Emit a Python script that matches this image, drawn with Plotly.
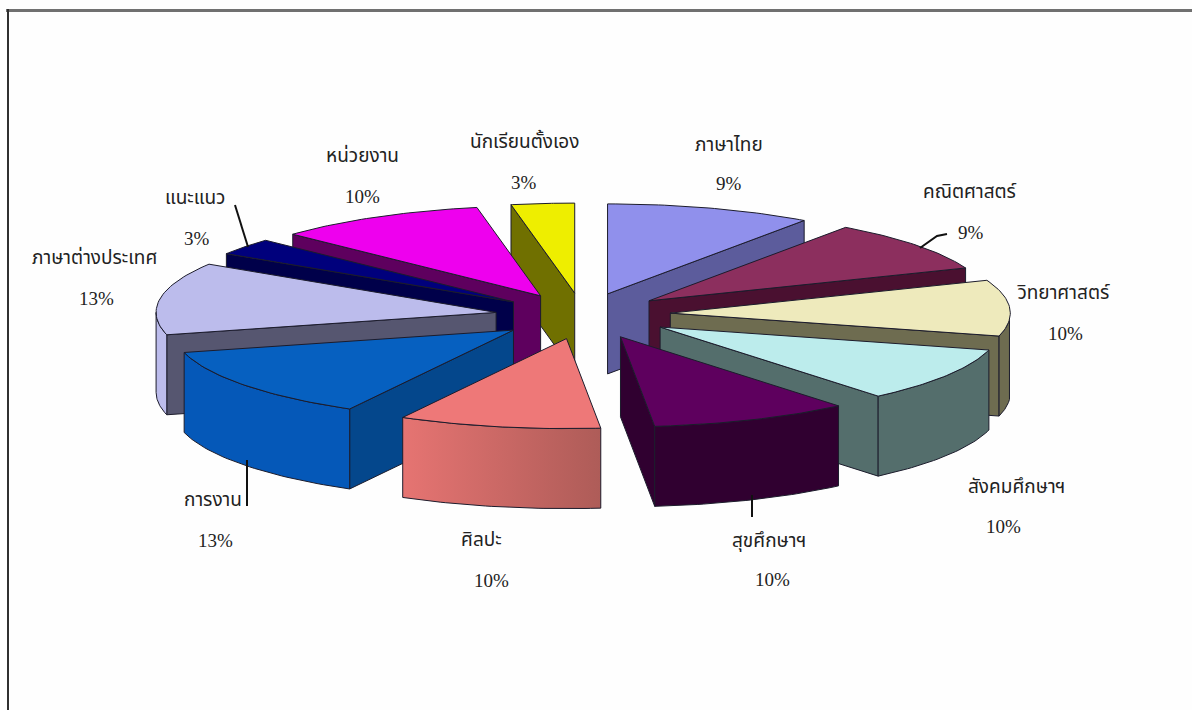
import math
import plotly.graph_objects as go

# --- chart data, clockwise from 12 o'clock ---
categories = ["ภาษาไทย", "คณิตศาสตร์", "วิทยาศาสตร์", "สังคมศึกษาฯ", "สุขศึกษาฯ", "ศิลปะ",
              "การงาน", "ภาษาต่างประเทศ", "แนะแนว", "หน่วยงาน", "นักเรียนตั้งเอง"]
percents = [9, 9, 10, 10, 10, 10, 13, 13, 3, 10, 3]
top_colors = ["#9090EC", "#8C2F5E", "#EEEABC", "#BCECEC", "#5E005E", "#EE7878",
              "#0660C0", "#BCBCEC", "#00007C", "#EE00EE", "#EEEE00"]
wall_colors = ["#5C5C9C", "#4A1030", "#6E6C50", "#546E6C", "#300030", "#C06464",
               "#04478C", "#565670", "#00004A", "#5E005E", "#707000"]
rim_colors = ["#5C5C9C", "#4A1030", "#6E6C50", "#546E6C", "#300030", "#C06464",
              "#0558B8", "#BCBCEC", "#00004A", "#5E005E", "#707000"]
name_xy = [(729, 145), (970, 192), (1063, 293), (1016, 487), (769, 541), (481, 540),
           (213, 500), (94, 258), (195, 198), (362, 156), (524, 142)]
pct_xy = [(729, 183), (971, 232), (1065, 333), (1003, 526), (772, 579), (491, 580),
          (215, 540), (96, 298), (197, 238), (362, 196), (524, 182)]

# --- projection of the exploded pie ---
CX, CY = 583, 316
RX, RY = 340, 90
EX, EY = 88, 23
DEPTH = 80
WARP = math.radians(4)  # slight perspective skew on the right-hand side
OUT = "#1c1c2c"
FONT_T = "Noto Sans Thai, Noto Serif Thai, Liberation Serif, DejaVu Serif, serif"


def warp(a):
    return a + WARP * math.sqrt(max(0.0, math.sin(a)))


def arc(tx, ty, a0, a1, n=36):
    pts = []
    for i in range(n + 1):
        a = warp(a0 + (a1 - a0) * i / n)
        pts.append((tx + RX * math.sin(a), ty - RY * math.cos(a)))
    return pts


def poly(fig, pts, color, gradient=None):
    xs = [p[0] for p in pts] + [pts[0][0]]
    ys = [p[1] for p in pts] + [pts[0][1]]
    kw = dict(fillgradient=gradient) if gradient else dict(fillcolor=color)
    fig.add_trace(go.Scatter(x=xs, y=ys, mode="lines", fill="toself",
                             line=dict(color=OUT, width=1), hoverinfo="skip",
                             showlegend=False, **kw))


fig = go.Figure()

total = sum(percents)
slices = []
acc = 0
for i, p in enumerate(percents):
    a0 = 2 * math.pi * acc / total
    acc += p
    a1 = 2 * math.pi * acc / total
    slices.append((i, a0, a1, (a0 + a1) / 2))

# painter's order: the back of the pie first
for i, a0, a1, mid in sorted(slices, key=lambda s: -math.cos(s[3])):
    tx = CX + EX * math.sin(mid)
    ty = CY - EY * math.cos(mid)
    # radial walls facing the viewer
    for a, visible in ((a0, math.sin(a0) < 0), (a1, math.sin(a1) > 0)):
        if visible:
            q = arc(tx, ty, a, a, 1)[0]
            poly(fig, [(tx, ty), q, (q[0], q[1] + DEPTH), (tx, ty + DEPTH)], wall_colors[i])
    # rim wall: only the front half of the ellipse can be seen
    lo, hi = max(a0, math.pi / 2), min(a1, 3 * math.pi / 2)
    if lo < hi:
        rim = arc(tx, ty, lo, hi)
        pts = rim + [(x, y + DEPTH) for x, y in reversed(rim)]
        grad = None
        if categories[i] == "ศิลปะ":
            grad = dict(type="horizontal",
                        colorscale=[[0, "#E67472"], [1, "#AE5C58"]])
        poly(fig, pts, rim_colors[i], grad)
    # top face
    poly(fig, [(tx, ty)] + arc(tx, ty, a0, a1), top_colors[i])

# leader lines
leaders = [([235, 248], [205, 247]), ([247, 247], [460, 506]), ([752, 752], [495, 517]),
           ([920, 937, 947], [248, 236, 234])]
for lx, ly in leaders:
    fig.add_trace(go.Scatter(x=lx, y=ly, mode="lines", line=dict(color="#111111", width=2),
                             hoverinfo="skip", showlegend=False))

# frame (top and left edges of the screenshot)
fig.add_shape(type="line", x0=6, x1=1192, y0=10.5, y1=10.5, line=dict(color="#707070", width=3))
fig.add_shape(type="line", x0=8, x1=8, y0=9, y1=710, line=dict(color="#303030", width=2))

for name, (nx, ny), p, (px, py) in zip(categories, name_xy, percents, pct_xy):
    fig.add_annotation(x=nx, y=ny, text=name, showarrow=False,
                       font=dict(family=FONT_T, size=19, color="#222222"))
    fig.add_annotation(x=px, y=py, text=f"{p}%", showarrow=False,
                       font=dict(family="Liberation Serif, serif", size=19, color="#222222"))

fig.update_layout(width=1192, height=710, margin=dict(l=0, r=0, t=0, b=0),
                  paper_bgcolor="#FEFEFE", plot_bgcolor="#FEFEFE", showlegend=False,
                  xaxis=dict(range=[0, 1192], visible=False, fixedrange=True),
                  yaxis=dict(range=[710, 0], visible=False, fixedrange=True))
fig.write_html("out.html", config=dict(displayModeBar=False),
               post_script="document.body.style.margin='0';document.documentElement.style.overflow='hidden';")
